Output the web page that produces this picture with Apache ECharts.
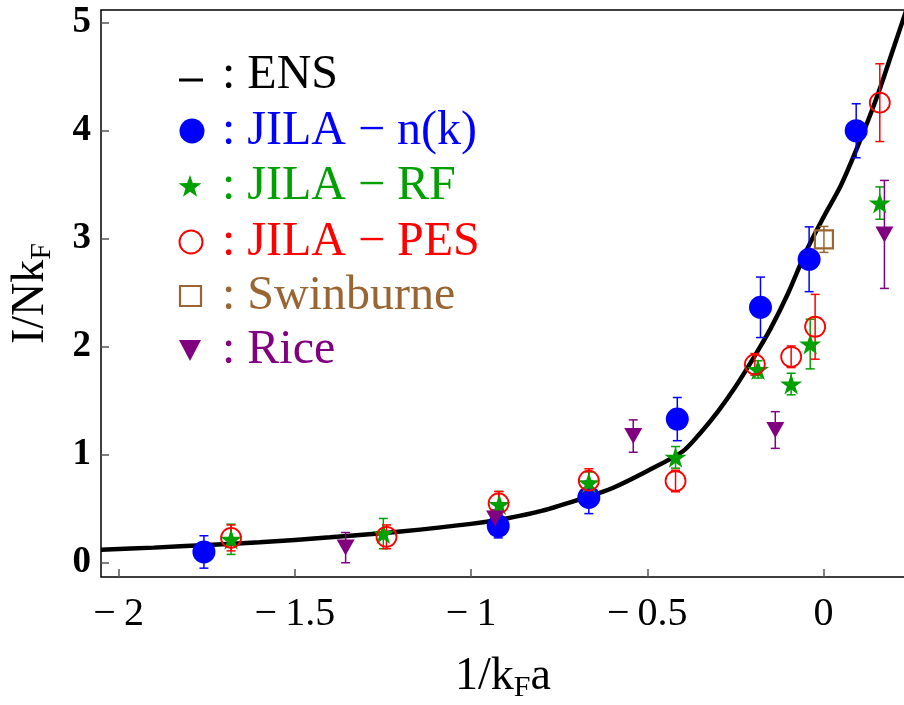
<!DOCTYPE html>
<html>
<head>
<meta charset="utf-8">
<script src="https://cdn.jsdelivr.net/npm/echarts@6/dist/echarts.min.js"></script>
<style>html,body{margin:0;padding:0;background:#fff;}#c{width:904px;height:705px;}</style>
</head>
<body>
<div id="c"></div>
<script>
// ---- data ----
const xTicks = [-2, -1.5, -1, -0.5, 0];
const yTicks = [0, 1, 2, 3, 4, 5];

// ENS theory curve
const ensX = [-2.05, -1.9, -1.75, -1.6, -1.4, -1.2, -1.0, -0.9, -0.8, -0.67, -0.6, -0.5, -0.4, -0.35, -0.3, -0.25, -0.2, -0.15, -0.1, -0.05, 0, 0.05, 0.1, 0.15, 0.2, 0.235];
const ensY = [0.12, 0.14, 0.165, 0.19, 0.235, 0.29, 0.36, 0.41, 0.48, 0.61, 0.69, 0.85, 1.03, 1.2, 1.4, 1.63, 1.89, 2.17, 2.5, 2.88, 3.2, 3.5, 3.88, 4.3, 4.78, 5.12];

// JILA - n(k)
const nkX = [-1.758, -0.923, -0.666, -0.415, -0.179, -0.041, 0.0925];
const nkY = [0.10, 0.34, 0.605, 1.33, 2.365, 2.81, 4.00];
const nkErr = [0.15, 0.11, 0.15, 0.20, 0.28, 0.30, 0.25];

// JILA - RF
const rfX = [-1.681, -1.249, -0.92, -0.666, -0.42, -0.186, -0.092, -0.038, 0.1595];
const rfY = [0.217, 0.27, 0.54, 0.74, 0.976, 1.79, 1.655, 2.025, 3.33];
const rfErr = [0.14, 0.14, 0.12, 0.10, 0.10, 0.08, 0.10, 0.23, 0.15];

// JILA - PES
const pesX = [-1.681, -1.24, -0.922, -0.666, -0.42, -0.195, -0.092, -0.024, 0.1595];
const pesY = [0.23, 0.24, 0.55, 0.76, 0.757, 1.837, 1.907, 2.185, 4.26];
const pesErr = [0.12, 0.11, 0.11, 0.11, 0.10, 0.10, 0.10, 0.30, 0.36];

// Swinburne
const swX = [0.001];
const swY = [2.994];
const swErr = [0.12];

// Rice
const riceX = [-1.356, -0.932, -0.54, -0.137, 0.1726];
const riceY = [0.14, 0.41, 1.173, 1.229, 3.04];
const riceErr = [0.14, 0.08, 0.15, 0.17, 0.50];

// ---- chart ----
const FONT = '"Liberation Serif", "Times New Roman", serif';
const C = { nk: '#0000ff', rf: '#00a000', pes: '#ff0000', sw: '#996633', rice: '#800080' };
const starPath = 'path://M50,0 L61.2,34.5 L97.6,34.5 L68.2,55.9 L79.4,90.5 L50,69.1 L20.6,90.5 L31.8,55.9 L2.4,34.5 L38.8,34.5 Z';

function zip3(x, y, e) { return x.map((v, i) => [v, y[i], e[i]]); }

function errSeries(name, data, color) {
  return {
    type: 'custom', name: name + ' err', data: data, z: 3, silent: true,
    renderItem: function (params, api) {
      const x = api.value(0), y = api.value(1), e = api.value(2);
      const t = api.coord([x, y + e]), b = api.coord([x, y - e]);
      const w = 4.5;
      const st = { stroke: color, lineWidth: 1.5 };
      return {
        type: 'group', children: [
          { type: 'line', shape: { x1: t[0], y1: t[1], x2: b[0], y2: b[1] }, style: st },
          { type: 'line', shape: { x1: t[0] - w, y1: t[1], x2: t[0] + w, y2: t[1] }, style: st },
          { type: 'line', shape: { x1: b[0] - w, y1: b[1], x2: b[0] + w, y2: b[1] }, style: st }
        ]
      };
    }
  };
}

const chart = echarts.init(document.getElementById('c'));

function starPoints(cx, cy, R) {
  const pts = [];
  for (let i = 0; i < 10; i++) {
    const r = i % 2 === 0 ? R : R * 0.4;
    const a = -Math.PI / 2 + i * Math.PI / 5;
    pts.push([cx + r * Math.cos(a), cy + r * Math.sin(a)]);
  }
  return pts;
}

const legFont = '48px ' + FONT;
const legendRows = [
  { y: 75, text: ': ENS', color: '#000' },
  { y: 131, text: ': JILA \u2212 n(k)', color: C.nk },
  { y: 186, text: ': JILA \u2212 RF', color: C.rf },
  { y: 242, text: ': JILA \u2212 PES', color: C.pes },
  { y: 296, text: ': Swinburne', color: C.sw },
  { y: 350, text: ': Rice', color: C.rice }
];
const legendX = 222, markX = 192;

const graphics = [
  { type: 'line', shape: { x1: 179, y1: 80, x2: 203, y2: 80 }, style: { stroke: '#000', lineWidth: 3 } },
  { type: 'circle', shape: { cx: markX, cy: 131, r: 12.5 }, style: { fill: C.nk } },
  { type: 'polygon', shape: { points: starPoints(markX - 2, 187, 12) }, style: { fill: C.rf } },
  { type: 'circle', shape: { cx: markX - 1, cy: 242, r: 11.5 }, style: { fill: 'none', stroke: C.pes, lineWidth: 2 } },
  { type: 'rect', shape: { x: markX - 12, y: 286, width: 21, height: 20 }, style: { fill: 'none', stroke: C.sw, lineWidth: 2.2 } },
  { type: 'polygon', shape: { points: [[markX - 13, 340], [markX + 9, 340], [markX - 2, 361]] }, style: { fill: C.rice } }
].concat(legendRows.map(r => ({
  type: 'text', x: legendX, y: r.y,
  style: { text: r.text, font: legFont, fill: r.color, verticalAlign: 'middle', align: 'left' }
})));

const option = {
  animation: false,
  backgroundColor: '#fff',
  grid: { left: 101, top: 10, right: -1, bottom: 128, show: true, borderColor: '#000', borderWidth: 1.5, backgroundColor: 'transparent', containLabel: false, outerBoundsMode: 'none' },
  xAxis: {
    type: 'value', min: -2.05, max: 0.231,
    axisLine: { show: false, onZero: false }, splitLine: { show: false },
    axisTick: { show: true, inside: true, length: 8, customValues: xTicks, lineStyle: { color: '#555', width: 1.5 } },
    axisLabel: {
      customValues: xTicks, margin: 17, fontFamily: FONT, fontSize: 40, color: '#000',
      formatter: v => (v < 0 ? '\u2212\u2009' : '') + Math.abs(v)
    },
    name: '{a|1/k}{s|F}{a|a}', nameLocation: 'middle', nameGap: 74,
    nameTextStyle: { rich: { a: { fontFamily: FONT, fontSize: 46, lineHeight: 52, color: '#000' }, s: { fontFamily: FONT, fontSize: 30, lineHeight: 18, verticalAlign: 'bottom', color: '#000' } } }
  },
  yAxis: {
    type: 'value', min: -0.132, max: 5.118,
    axisLine: { show: false, onZero: false }, splitLine: { show: false },
    axisTick: { show: true, inside: true, length: 8, customValues: yTicks, lineStyle: { color: '#555', width: 1.5 } },
    axisLabel: { customValues: yTicks, margin: 10, fontFamily: FONT, fontSize: 37, fontWeight: 'bold', color: '#000' },
    name: '{a|I/Nk}{s|F}', nameLocation: 'middle', nameGap: 44, nameRotate: 90,
    nameTextStyle: { rich: { a: { fontFamily: FONT, fontSize: 46, lineHeight: 52, color: '#000' }, s: { fontFamily: FONT, fontSize: 30, lineHeight: 18, verticalAlign: 'bottom', color: '#000' } } }
  },
  graphic: graphics,
  series: [
    { type: 'line', name: 'ENS', data: ensX.map((v, i) => [v, ensY[i]]), showSymbol: false, smooth: 0.3, lineStyle: { color: '#000', width: 4.5 }, z: 2, silent: true },
    errSeries('nk', zip3(nkX, nkY, nkErr), C.nk),
    { type: 'scatter', name: 'JILA - n(k)', data: nkX.map((v, i) => [v, nkY[i]]), symbol: 'circle', symbolSize: 23, itemStyle: { color: C.nk, opacity: 1 }, z: 4 },
    errSeries('rf', zip3(rfX, rfY, rfErr), C.rf),
    { type: 'scatter', name: 'JILA - RF', data: rfX.map((v, i) => [v, rfY[i]]), symbol: starPath, symbolKeepAspect: true, symbolSize: 22, itemStyle: { color: C.rf, opacity: 1 }, z: 5 },
    errSeries('pes', zip3(pesX, pesY, pesErr), C.pes),
    { type: 'scatter', name: 'JILA - PES', data: pesX.map((v, i) => [v, pesY[i]]), symbol: 'circle', symbolSize: 20, itemStyle: { color: 'rgba(0,0,0,0)', borderColor: C.pes, borderWidth: 1.8, opacity: 1 }, z: 6 },
    errSeries('sw', zip3(swX, swY, swErr), C.sw),
    { type: 'scatter', name: 'Swinburne', data: swX.map((v, i) => [v, swY[i]]), symbol: 'rect', symbolSize: 18, itemStyle: { color: 'rgba(0,0,0,0)', borderColor: C.sw, borderWidth: 2.2, opacity: 1 }, z: 6 },
    errSeries('rice', zip3(riceX, riceY, riceErr), C.rice),
    { type: 'scatter', name: 'Rice', data: riceX.map((v, i) => [v, riceY[i]]), symbol: 'triangle', symbolRotate: 180, symbolSize: [18, 16], itemStyle: { color: C.rice, opacity: 1 }, z: 7 }
  ]
};
chart.setOption(option);
</script>
</body>
</html>
